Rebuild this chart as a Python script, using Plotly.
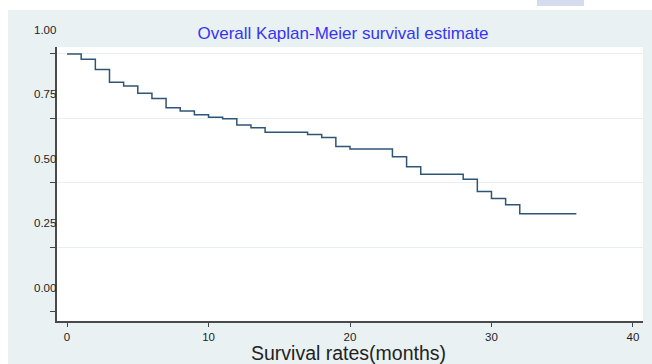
import plotly.graph_objects as go

# ---- data ----
months = [0, 1, 2, 3, 4, 5, 6, 7, 8, 9, 10, 11, 12, 13, 14, 17, 18, 19, 20,
          23, 24, 25, 28, 29, 30, 31, 32, 36]
survival = [1.000, 0.980, 0.940, 0.890, 0.876, 0.848, 0.827, 0.792, 0.779,
            0.764, 0.755, 0.749, 0.725, 0.714, 0.697, 0.688, 0.676, 0.641,
            0.632, 0.602, 0.563, 0.534, 0.514, 0.467, 0.440, 0.416, 0.381,
            0.381]
y_ticks = [0.0, 0.25, 0.5, 0.75, 1.0]
y_tick_labels = ["0.00", "0.25", "0.50", "0.75", "1.00"]
x_ticks = [0, 10, 20, 30, 40]
title_text = "Overall Kaplan-Meier survival estimate"
x_title = "Survival rates(months)"

# ---- layout geometry ----
W, H = 652, 364
ML, MR, MT, MB = 57, 9, 47, 43
PW, PH = W - ML - MR, H - MT - MB


def px_x(p):
    return (p - ML) / PW


def px_y(p):
    return 1 - (p - MT) / PH


FONT = "Liberation Sans, Arial, sans-serif"
PANEL = "#e9f1f3"

fig = go.Figure()
fig.add_trace(go.Scatter(
    x=months, y=survival, mode="lines", line_shape="hv",
    line=dict(color="#2f5576", width=1.5), showlegend=False,
    hoverinfo="x+y"))

shapes = [
    # white strip at top and left (outside the grey panel)
    dict(type="rect", xref="paper", yref="paper", x0=px_x(0), x1=px_x(W),
         y0=px_y(10), y1=px_y(0), fillcolor="white", line_width=0, layer="below"),
    dict(type="rect", xref="paper", yref="paper", x0=px_x(0), x1=px_x(8),
         y0=px_y(H), y1=px_y(0), fillcolor="white", line_width=0, layer="below"),
    # small lavender blob at the very top
    dict(type="rect", xref="paper", yref="paper", x0=px_x(537), x1=px_x(584),
         y0=px_y(6), y1=px_y(0), fillcolor="#d6dcef", line_width=0, layer="below"),
]

annotations = []
for v, t in zip(y_ticks, y_tick_labels):
    annotations.append(dict(
        xref="paper", yref="y", x=0, y=v, xanchor="right", yanchor="middle",
        yshift=24, xshift=1, text=t, showarrow=False,
        font=dict(family=FONT, size=11.5, color="#1e1e1e")))

# x-axis title placed as an annotation centred at the reference position
annotations.append(dict(
    xref="paper", yref="paper", x=px_x(348), y=px_y(353), xanchor="center",
    yanchor="middle", text=x_title, showarrow=False, borderpad=0,
    font=dict(family=FONT, size=19.5, color="#222")))

fig.update_layout(
    width=W, height=H,
    margin=dict(l=ML, r=MR, t=MT, b=MB, autoexpand=False),
    paper_bgcolor=PANEL, plot_bgcolor="white",
    shapes=shapes, annotations=annotations,
    title=dict(text=title_text, x=px_x(343), xref="paper", xanchor="center",
               y=1 - 33 / H, yref="container", yanchor="middle",
               font=dict(family=FONT, size=17, color="#3535f5")),
    font=dict(family=FONT),
)
fig.update_xaxes(
    range=[-0.71, 40.71], tickvals=x_ticks, ticks="outside", ticklen=4,
    tickcolor="#444", tickwidth=1.2, showgrid=False, zeroline=False,
    showline=True, linecolor="#4a4a4a", linewidth=1.6, automargin=False,
    tickfont=dict(family=FONT, size=11.5, color="#1e1e1e"))
fig.update_yaxes(
    range=[-0.035, 1.027], tickvals=y_ticks, showticklabels=False,
    ticks="outside", ticklen=5, tickcolor="#444", tickwidth=1.2,
    showgrid=True, gridcolor="#e8eff2", gridwidth=1,
    zeroline=True, zerolinecolor="white", automargin=False,
    showline=True, linecolor="#4a4a4a", linewidth=1.6)

fig.write_html(
    "out.html",
    config={"displayModeBar": False},
    post_script="document.body.style.margin='0';document.body.style.overflow='hidden';")
